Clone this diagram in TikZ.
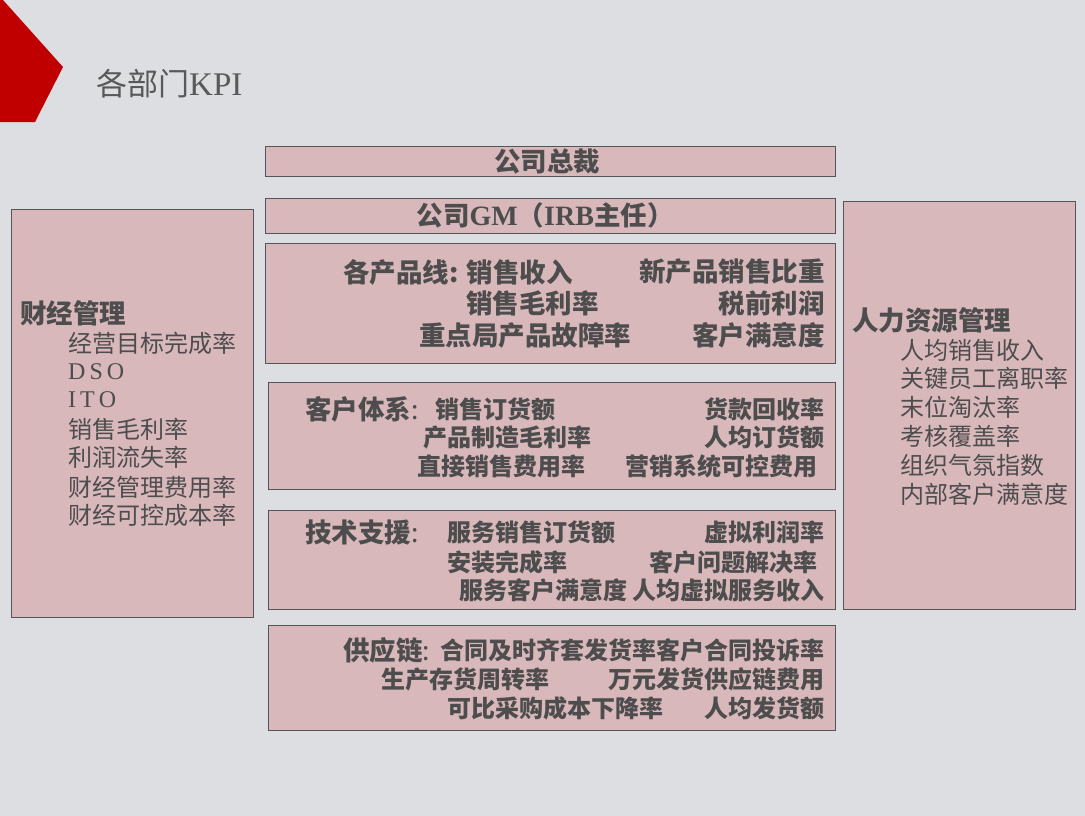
\documentclass[tikz,border=0pt]{standalone}
\usepackage{fontspec}
\setmainfont{Noto Sans CJK SC}
\newfontfamily\serif{Liberation Serif}
\usetikzlibrary{fit}
\definecolor{bgc}{RGB}{221,222,225}
\definecolor{redc}{RGB}{192,0,0}
\definecolor{boxfill}{RGB}{217,184,187}
\definecolor{boxline}{RGB}{85,85,85}
\definecolor{txt}{RGB}{77,77,77}
\definecolor{ttl}{RGB}{89,89,89}
\tikzset{
  box/.style={draw=boxline, fill=boxfill, line width=0.9pt, inner sep=0pt, rectangle},
  hd/.style={inner sep=0pt, text=txt, font=\fontsize{26.5}{30}\selectfont\bfseries},
  bi/.style={inner sep=0pt, text=txt, font=\fontsize{24}{28}\selectfont\bfseries},
  ri/.style={inner sep=0pt, text=txt, font=\fontsize{24}{28}\selectfont},
}
\begin{document}
\begin{tikzpicture}[x=1pt,y=-1pt]
\useasboundingbox (0,0) rectangle (1085,816);
\fill[bgc] (0,0) rectangle (1085,816);
\fill[redc] (0,0) -- (3,0) -- (63,67) -- (35,122) -- (0,122) -- cycle;
\node[anchor=west, inner sep=0pt, text=ttl, font=\fontsize{31}{34}\selectfont] (title) at (96,84) {各部门{\serif\fontsize{33}{36}\selectfont KPI}};

% boxes
\node[box, fit={(265,146) (835,176)}] (ceo) {};
\node[box, fit={(265,198) (835,233)}] (gm) {};
\node[box, fit={(265,243) (835,363)}] (prod) {};
\node[box, fit={(268,382) (835,489)}] (cust) {};
\node[box, fit={(268,510) (835,609)}] (tech) {};
\node[box, fit={(268,625) (835,730)}] (sup) {};
\node[box, fit={(11,209) (253,617)}] (fin) {};
\node[box, fit={(843,201) (1075,609)}] (hr) {};

% top boxes
\node[hd] (ceoT) at (547,161) {公司总裁};
\node[hd] (gmT) at (545,215) {公司{\serif\fontsize{28}{30}\selectfont GM}（{\serif\fontsize{28}{30}\selectfont IRB}主任）};

% product lines
\node[hd, anchor=west] (p1) at (343,272) {各产品线: 销售收入};
\node[hd, anchor=east] (p2) at (825,272) {新产品销售比重};
\node[hd, anchor=west] (p3) at (466,303) {销售毛利率};
\node[hd, anchor=east] (p4) at (825,303) {税前利润};
\node[hd, anchor=west] (p5) at (419,335) {重点局产品故障率};
\node[hd, anchor=east] (p6) at (825,335) {客户满意度};

% customer system
\node[hd, anchor=west] (c0) at (305,409) {客户体系{\mdseries :}};
\node[bi, anchor=west] (c1) at (435,409) {销售订货额};
\node[bi, anchor=east] (c2) at (825,409) {货款回收率};
\node[bi, anchor=west] (c3) at (423,437) {产品制造毛利率};
\node[bi, anchor=east] (c4) at (825,437) {人均订货额};
\node[bi, anchor=west] (c5) at (417,466) {直接销售费用率};
\node[bi, anchor=east] (c6) at (818,466) {营销系统可控费用};

% tech support
\node[hd, anchor=west] (t0) at (305,532) {技术支援{\mdseries :}};
\node[bi, anchor=west] (t1) at (447,532) {服务销售订货额};
\node[bi, anchor=east] (t2) at (825,532) {虚拟利润率};
\node[bi, anchor=west] (t3) at (447,562) {安装完成率};
\node[bi, anchor=east] (t4) at (818,562) {客户问题解决率};
\node[bi, anchor=west] (t5) at (459,590) {服务客户满意度};
\node[bi, anchor=east] (t6) at (825,590) {人均虚拟服务收入};

% supply chain
\node[hd, anchor=west] (s0) at (343,650) {供应链{\mdseries :}};
\node[bi, anchor=east] (s1) at (825,650) {合同及时齐套发货率客户合同投诉率};
\node[bi, anchor=west] (s3) at (381,679) {生产存货周转率};
\node[bi, anchor=east] (s4) at (825,679) {万元发货供应链费用};
\node[bi, anchor=west] (s5) at (447,708) {可比采购成本下降率};
\node[bi, anchor=east] (s6) at (825,708) {人均发货额};

% finance
\node[hd, anchor=west] (f0) at (20,313) {财经管理};
\node[ri, anchor=west] (f1) at (68,343) {经营目标完成率};
\node[ri, anchor=west] (f2) at (68,372) {\serif D\,S\,O};
\node[ri, anchor=west] (f3) at (68,400) {\serif I\,T\,O};
\node[ri, anchor=west] (f4) at (68,429) {销售毛利率};
\node[ri, anchor=west] (f5) at (68,457) {利润流失率};
\node[ri, anchor=west] (f6) at (68,487) {财经管理费用率};
\node[ri, anchor=west] (f7) at (68,515) {财经可控成本率};

% HR
\node[hd, anchor=west] (h0) at (852,320) {人力资源管理};
\node[ri, anchor=west] (h1) at (900,350) {人均销售收入};
\node[ri, anchor=west] (h2) at (900,378) {关键员工离职率};
\node[ri, anchor=west] (h3) at (900,407) {末位淘汰率};
\node[ri, anchor=west] (h4) at (900,436) {考核覆盖率};
\node[ri, anchor=west] (h5) at (900,465) {组织气氛指数};
\node[ri, anchor=west] (h6) at (900,494) {内部客户满意度};
\end{tikzpicture}
\end{document}
